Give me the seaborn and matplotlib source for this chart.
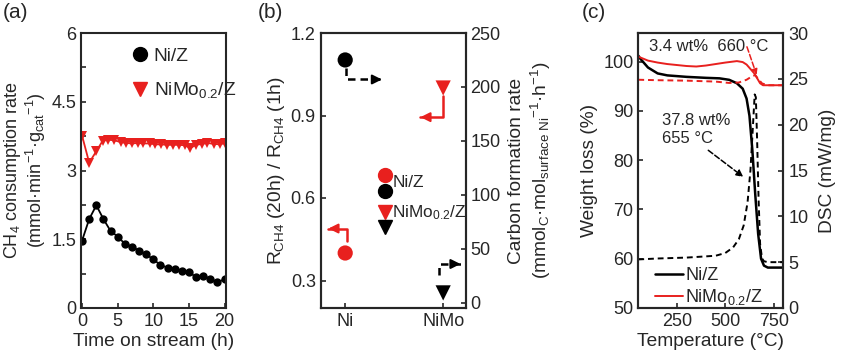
import matplotlib
matplotlib.use("Agg")
import matplotlib.pyplot as plt
import seaborn as sns
from matplotlib.ticker import MultipleLocator
from matplotlib.lines import Line2D

# --- data ---

# (a) CH4 consumption rate vs time on stream
time_ni = [0, 1, 2, 3, 4, 5, 6, 7, 8, 9, 10, 11, 12, 13, 14, 15, 16, 17, 18, 19, 20]
rate_ni = [1.47, 1.94, 2.24, 1.94, 1.68, 1.56, 1.40, 1.34, 1.25, 1.17, 1.06,
           0.94, 0.88, 0.86, 0.80, 0.79, 0.67, 0.70, 0.64, 0.56, 0.63]
time_nimo = [0, 1.0, 2.0, 2.9, 3.7, 4.5, 5.4, 6.2, 7.0, 7.8, 8.6, 9.5, 10.3,
             11.1, 11.9, 12.7, 13.6, 14.4, 15.2, 16.0, 16.8, 17.6, 18.5, 19.3, 20.1]
rate_nimo = [3.76, 3.17, 3.42, 3.65, 3.67, 3.66, 3.62, 3.60, 3.59, 3.60, 3.59, 3.59, 3.57,
             3.57, 3.56, 3.56, 3.56, 3.55, 3.49, 3.56, 3.58, 3.60, 3.58, 3.57, 3.60]

# (b) stability ratio and carbon formation rate
catalysts = ["Ni", "NiMo"]
rate_ratio = [0.40, 1.00]
carbon_rate = [225, 9]

# (c) TGA / DSC
temp_tga_ni = [50, 60, 100, 150, 200, 300, 400, 470, 520, 560, 590, 610, 625, 640,
               655, 670, 685, 700, 720, 800]
tga_ni = [101.2, 100.6, 98.8, 97.6, 97.2, 96.9, 96.7, 96.6, 96.3, 95.6, 94.5, 92.5, 89.0,
          82.0, 73.0, 65.0, 60.0, 58.6, 58.2, 58.2]
temp_tga_nimo = [50, 100, 150, 200, 300, 350, 400, 500, 560, 590, 610, 630, 650, 665,
                 680, 695, 710, 800]
tga_nimo = [101.0, 100.2, 99.8, 99.5, 99.1, 99.0, 99.2, 99.8, 100.1, 99.9, 99.4, 98.5,
            97.6, 96.6, 95.6, 95.2, 95.2, 95.2]
temp_dsc_ni = [50, 150, 300, 450, 500, 540, 570, 595, 615, 630, 642, 652, 658, 665,
               672, 680, 690, 700, 720, 800]
dsc_ni = [5.3, 5.4, 5.5, 5.7, 6.0, 6.6, 7.5, 9.0, 11.5, 15.0, 19.5, 23.3, 23.0, 18.0,
          12.0, 7.0, 5.4, 5.1, 5.0, 5.0]
temp_dsc_nimo = [50, 150, 300, 450, 520, 570, 610, 640, 655, 670, 690, 720, 800]
dsc_nimo = [24.9, 24.85, 24.8, 24.7, 24.55, 24.6, 24.9, 25.3, 25.4, 25.0, 24.5, 24.3, 24.3]

RED = "#e8201e"

sns.set_style("ticks")
plt.rcParams["font.family"] = ["Liberation Sans", "DejaVu Sans"]
plt.rcParams["mathtext.fontset"] = "custom"
plt.rcParams["mathtext.rm"] = "Liberation Sans"
plt.rcParams["mathtext.it"] = "Liberation Sans"
plt.rcParams["axes.linewidth"] = 1.5
plt.rcParams["xtick.direction"] = "in"
plt.rcParams["ytick.direction"] = "in"
plt.rcParams["xtick.major.size"] = 3.5
plt.rcParams["ytick.major.size"] = 3.5
plt.rcParams["ytick.minor.size"] = 3.5
plt.rcParams["xtick.major.width"] = 1.2
plt.rcParams["ytick.major.width"] = 1.2
plt.rcParams["ytick.minor.width"] = 1.2

TICK_FS = 13
LAB_FS = 13.8

W, H = 853, 356
fig = plt.figure(figsize=(W / 100, H / 100), dpi=100)


def box(left_px):
    return [left_px / W, 48 / H, 145 / W, 275 / H]


# ---------------- (a) ----------------
axa = fig.add_axes(box(81))
sns.lineplot(x=time_ni, y=rate_ni, ax=axa, color="black", marker="o", markersize=6,
             markeredgewidth=0, linewidth=1.3)
sns.lineplot(x=time_nimo, y=rate_nimo, ax=axa, color=RED, marker="v", markersize=6.5,
             markeredgewidth=0, linewidth=1.3)
axa.set_xlim(-0.15, 20.2)
axa.set_ylim(0, 6)
axa.set_xticks([0, 5, 10, 15, 20])
axa.set_yticks([0, 1.5, 3, 4.5, 6])
axa.set_yticklabels(["0", "1.5", "3", "4.5", "6"])
axa.yaxis.set_minor_locator(MultipleLocator(0.75))
axa.tick_params(labelsize=TICK_FS)
axa.set_xlabel("Time on stream (h)", fontsize=LAB_FS, labelpad=2)
axa.set_ylabel("CH$_4$ consumption rate\n(mmol·min$^{-1}$·g$_{cat}$$^{-1}$)",
               fontsize=13, labelpad=2, linespacing=1.05)
handles_a = [Line2D([], [], marker="o", color="black", linestyle="none", markersize=10),
             Line2D([], [], marker="v", color=RED, linestyle="none", markersize=10)]
axa.legend(handles_a, ["Ni/Z", "NiMo$_{0.2}$/Z"], loc="upper left",
           bbox_to_anchor=(0.21, 1.01), frameon=False, fontsize=LAB_FS,
           labelspacing=0.8, handletextpad=0.1, handlelength=1.2)

# ---------------- (b) ----------------
axb = fig.add_axes(box(320.7))
axb2 = axb.twinx()
marker_map = {"Ni": "o", "NiMo": "v"}
sns.scatterplot(x=catalysts, y=rate_ratio, style=catalysts, markers=marker_map, ax=axb,
                color=RED, s=120, linewidth=0, legend=False)
sns.scatterplot(x=catalysts, y=carbon_rate, style=catalysts, markers=marker_map, ax=axb2,
                color="black", s=120, linewidth=0, legend=False)
axb.set_xlim(-0.25, 1.23)
axb.set_ylim(0.2, 1.2)
axb.set_yticks([0.3, 0.6, 0.9, 1.2])
axb2.set_ylim(-5, 250)
axb2.set_yticks([0, 50, 100, 150, 200, 250])
axb.set_xticks([0, 1])
axb.set_xticklabels(catalysts)
axb.tick_params(labelsize=TICK_FS)
axb2.tick_params(labelsize=TICK_FS, direction="in", length=3.5, width=1.2)
axb.set_ylabel("R$_{CH4}$ (20h) / R$_{CH4}$ (1h)", fontsize=LAB_FS, labelpad=3)
axb2.set_ylabel("Carbon formation rate\n(mmol$_C$·mol$_{surface\\ Ni}$$^{-1}$·h$^{-1}$)",
                fontsize=LAB_FS, rotation=90, labelpad=5, linespacing=1.25)
for sp in axb2.spines.values():
    sp.set_linewidth(1.5)

# elbow arrows pointing to the axis each series belongs to
arrows_b = [
    # start, corner, end, colour, style
    ((0.007, 1.071), (0.007, 1.031), (0.375, 1.031), "black", "--"),
    ((1.0, 0.970), (1.0, 0.894), (0.768, 0.894), RED, "-"),
    ((0.017, 0.443), (0.017, 0.489), (-0.171, 0.489), RED, "-"),
    ((0.955, 0.321), (0.955, 0.360), (1.177, 0.360), "black", "--"),
]
for p0, p1, p2, col, ls in arrows_b:
    axb.plot([p0[0], p1[0], p2[0]], [p0[1], p1[1], p2[1]], color=col, linestyle=ls,
             linewidth=1.8, dashes=(3, 2) if ls == "--" else (None, None))
    dx = 0.06 if p2[0] > p1[0] else -0.06
    axb.annotate("", xy=p2, xytext=(p2[0] - dx, p2[1]),
                 arrowprops=dict(arrowstyle="-|>", color=col, lw=1.5,
                                 mutation_scale=14, shrinkA=0, shrinkB=0))

# legend of panel (b): stacked markers
leg_keys = [(0.443, 0.484, "o", RED), (0.443, 0.427, "o", "black"),
            (0.443, 0.349, "v", RED), (0.443, 0.295, "v", "black")]
for kx, ky, mk, col in leg_keys:
    axb.plot([kx], [ky], marker=mk, color=col, markersize=10, linestyle="none",
             transform=axb.transAxes)
axb.text(0.495, 0.455, "Ni/Z", transform=axb.transAxes, fontsize=12.4, va="center")
axb.text(0.495, 0.345, "NiMo$_{0.2}$/Z", transform=axb.transAxes, fontsize=12.4,
         va="center")

# ---------------- (c) ----------------
axc = fig.add_axes(box(638.3))
axc2 = axc.twinx()
sns.lineplot(x=temp_tga_ni, y=tga_ni, ax=axc, color="black", linewidth=1.8)
sns.lineplot(x=temp_tga_nimo, y=tga_nimo, ax=axc, color=RED, linewidth=1.4)
sns.lineplot(x=temp_dsc_ni, y=dsc_ni, ax=axc2, color="black", linewidth=1.4,
             linestyle=(0, (3, 2)))
sns.lineplot(x=temp_dsc_nimo, y=dsc_nimo, ax=axc2, color=RED, linewidth=1.4,
             linestyle=(0, (3, 2)))
axc.set_xlim(50, 800)
axc.set_ylim(50, 105.8)
axc.set_xticks([250, 500, 750])
axc.set_yticks([50, 60, 70, 80, 90, 100])
axc2.set_ylim(0, 30)
axc2.set_yticks([0, 5, 10, 15, 20, 25, 30])
axc.tick_params(labelsize=TICK_FS)
axc2.tick_params(labelsize=TICK_FS, direction="in", length=3.5, width=1.2)
for sp in axc2.spines.values():
    sp.set_linewidth(1.5)
axc.set_xlabel("Temperature (°C)", fontsize=LAB_FS, labelpad=2)
axc.set_ylabel("Weight loss (%)", fontsize=LAB_FS, labelpad=4)
axc2.set_ylabel("DSC (mW/mg)", fontsize=LAB_FS, rotation=90, labelpad=8)

axc.text(413, 103.1, "3.4 wt%  660 °C", fontsize=12, ha="center", va="center")
axc.text(171, 86.2, "37.8 wt%\n655 °C", fontsize=12, ha="left", va="center",
         linespacing=1.2)
axc.annotate("", xy=(662, 97.3), xytext=(612, 103.0),
             arrowprops=dict(arrowstyle="-|>", color=RED, lw=1.1, linestyle="--",
                             mutation_scale=8, shrinkA=0, shrinkB=0))
axc.annotate("", xy=(593, 76.6), xytext=(412, 82.0),
             arrowprops=dict(arrowstyle="-|>", color="black", lw=1.1, linestyle="--",
                             mutation_scale=10, shrinkA=0, shrinkB=0))
handles_c = [Line2D([], [], color="black", linewidth=1.8),
             Line2D([], [], color=RED, linewidth=1.4)]
axc.legend(handles_c, ["Ni/Z", "NiMo$_{0.2}$/Z"], loc="lower left",
           bbox_to_anchor=(0.0, -0.055), frameon=False, fontsize=LAB_FS - 0.8,
           handlelength=1.6, handletextpad=0.1, labelspacing=0.15)

# panel letters
fig.text(3 / W, 1 - 12 / H, "(a)", fontsize=15, va="center")
fig.text(258 / W, 1 - 12 / H, "(b)", fontsize=15, va="center")
fig.text(582 / W, 1 - 12 / H, "(c)", fontsize=15, va="center")

fig.savefig("out.png", dpi=100)
